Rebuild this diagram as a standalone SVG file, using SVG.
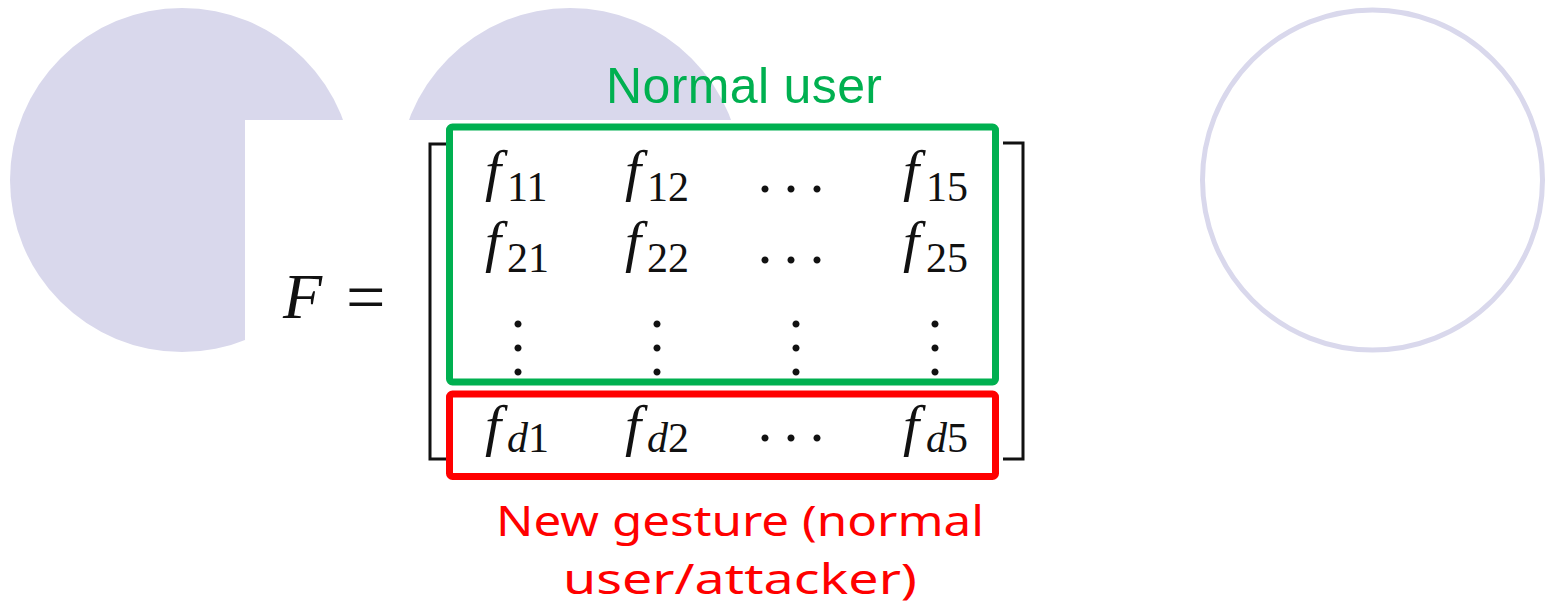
<svg xmlns="http://www.w3.org/2000/svg" width="1549" height="607" viewBox="0 0 1549 607">
  <style>
    .blob { fill: #D9D8EC; }
    .ring { fill: none; stroke: #D9D8EC; stroke-width: 5; }
    .math { font-family: "Liberation Serif", "DejaVu Serif", serif; fill: #111; }
    .f { font-style: italic; font-size: 58px; }
    .sub { font-size: 42px; }
    .subi { font-size: 42px; font-style: italic; }
    .dots { font-family: "Liberation Serif", serif; font-size: 60px; fill: #111; }
    .bracket { fill: none; stroke: #111; stroke-width: 3; }
    .green { fill: none; stroke: #00B050; stroke-width: 7; }
    .red { fill: none; stroke: #FF0000; stroke-width: 7; }
    .lblg { font-family: "Liberation Sans", Arial, sans-serif; font-size: 50px; fill: #00B050; }
    .lblr { font-family: "Comic Sans MS", "Noto Sans", "DejaVu Sans", sans-serif; font-size: 42px; fill: #FF0000; }
  </style>

  <g id="background">
    <circle class="blob" cx="182" cy="180" r="172"/>
    <circle class="blob" cx="570" cy="180" r="172"/>
    <circle class="ring" cx="1372.5" cy="180" r="170"/>
    <rect x="245" y="120" width="800" height="370" fill="#FFFFFF"/>
  </g>

  <g id="equation">
    <text class="math"><tspan x="283" y="318" font-style="italic" font-size="64">F</tspan><tspan x="346" y="321" font-size="70">=</tspan></text>
    <path class="bracket" d="M448,144 H430 V459 H448"/>
    <path class="bracket" d="M1003,143 H1023 V459 H1003"/>

    <text class="math"><tspan class="f" x="485" y="190">f</tspan><tspan class="sub" x="507" y="201">11</tspan></text>
    <text class="math"><tspan class="f" x="625" y="190">f</tspan><tspan class="sub" x="647" y="201">12</tspan></text>
    <text class="dots" text-anchor="middle" x="765 791 817" y="192">...</text>
    <text class="math"><tspan class="f" x="903" y="190">f</tspan><tspan class="sub" x="926" y="201">15</tspan></text>

    <text class="math"><tspan class="f" x="485" y="261">f</tspan><tspan class="sub" x="507" y="272">21</tspan></text>
    <text class="math"><tspan class="f" x="625" y="261">f</tspan><tspan class="sub" x="647" y="272">22</tspan></text>
    <text class="dots" text-anchor="middle" x="765 791 817" y="263">...</text>
    <text class="math"><tspan class="f" x="903" y="261">f</tspan><tspan class="sub" x="926" y="272">25</tspan></text>

    <text class="dots" text-anchor="middle" x="518 518 518" y="327 351 375">...</text>
    <text class="dots" text-anchor="middle" x="657 657 657" y="327 351 375">...</text>
    <text class="dots" text-anchor="middle" x="796 796 796" y="327 351 375">...</text>
    <text class="dots" text-anchor="middle" x="935 935 935" y="327 351 375">...</text>

    <text class="math"><tspan class="f" x="485" y="445">f</tspan><tspan class="subi" x="507" y="452">d</tspan><tspan class="sub">1</tspan></text>
    <text class="math"><tspan class="f" x="625" y="445">f</tspan><tspan class="subi" x="647" y="452">d</tspan><tspan class="sub">2</tspan></text>
    <text class="dots" text-anchor="middle" x="765 791 817" y="441">...</text>
    <text class="math"><tspan class="f" x="903" y="445">f</tspan><tspan class="subi" x="926" y="452">d</tspan><tspan class="sub">5</tspan></text>
  </g>

  <g id="normal-user">
    <rect class="green" x="449.5" y="127" width="546" height="255" rx="3"/>
    <text class="lblg" x="606" y="103" textLength="276">Normal user</text>
  </g>

  <g id="new-gesture">
    <rect class="red" x="449.5" y="394" width="546" height="82.5" rx="3"/>
    <text class="lblr" text-anchor="middle" x="740" y="536" textLength="488" lengthAdjust="spacingAndGlyphs">New gesture (normal</text>
    <text class="lblr" text-anchor="middle" x="740" y="594" textLength="354" lengthAdjust="spacingAndGlyphs">user/attacker)</text>
  </g>
</svg>
